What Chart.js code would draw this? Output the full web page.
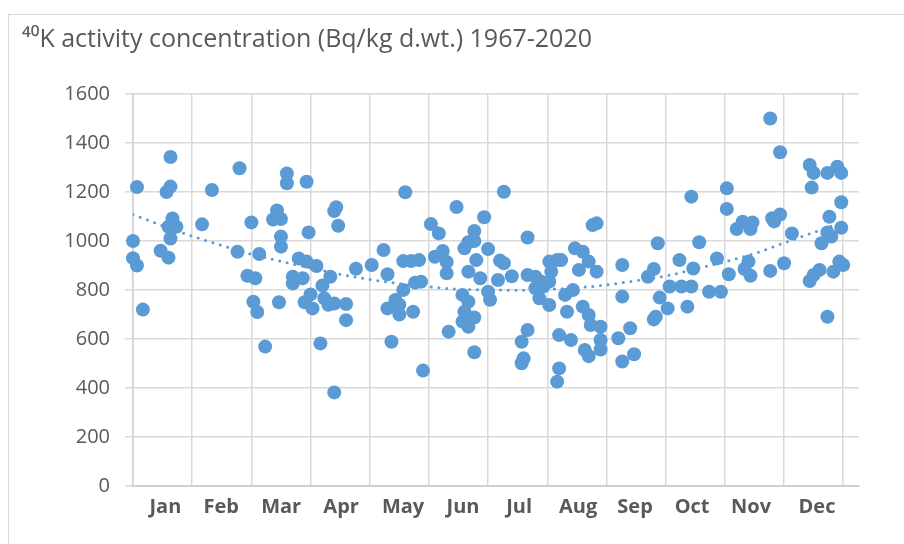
<!DOCTYPE html>
<html>
<head>
<meta charset="utf-8">
<script src="https://cdn.jsdelivr.net/npm/chart.js@4.4.1/dist/chart.umd.min.js"></script>
<style>
  html, body { margin: 0; padding: 0; background: #fff; overflow: hidden; }
  #frame { position: absolute; left: 8px; top: 14px; width: 1000px; height: 1000px; border: 1px solid #d9d9d9; }
  #wrap { position: absolute; left: 0; top: 0; width: 904px; height: 544px; }
</style>
</head>
<body>
<div id="frame"></div>
<div id="wrap"><canvas id="chart1" width="904" height="544"></canvas></div>
<script>
// sampling day of year (x) and 40K activity, Bq/kg d.wt. (y)
var days = [
  0, 2, 0, 2, 5, 14, 18, 19, 17, 19, 20, 18, 22, 19,
  35, 40, 54, 53, 60, 64, 58, 62, 61, 63, 67,
  78, 78, 88, 73, 71, 75, 75, 75, 89, 103, 102, 104, 84, 88, 93, 81, 86, 81, 74, 96, 100, 90, 87, 91, 97, 99, 102, 108, 108, 95, 102,
  113, 121, 127, 129, 138, 137, 141, 145, 137, 133, 129, 135, 135, 142, 143, 131, 147, 146,
  151, 155, 164, 178, 188, 200, 153, 157, 159, 159, 173, 168, 170, 173, 180, 174, 170, 176, 186, 188, 185, 192, 180, 181, 167, 170, 168, 173, 167, 170, 160, 173,
  200, 204, 207, 211, 215, 212, 211, 204, 206, 211, 208, 200, 197, 198, 197, 216, 216, 215,
  217, 224, 228, 226, 231, 235, 233, 235, 248, 248, 223, 219, 220, 228, 231, 232, 237, 222, 229, 231, 237, 237, 246, 252, 248, 254,
  266, 264, 261, 267, 271, 265, 264, 272, 278, 283, 277, 284, 283, 287, 281,
  296, 292, 298, 302, 301, 301, 306, 309, 314, 313, 312, 310, 313, 323, 328, 324, 328, 325, 323, 330, 334,
  343, 345, 344, 352, 357, 359, 359, 353, 359, 352, 354, 349, 343, 345, 348, 355, 358, 360, 352
];
var activity = [
  1000, 1220, 930, 900, 720, 960, 932, 1343, 1200, 1222, 1092, 1058, 1058, 1010,
  1068, 1208, 1297, 956, 1076, 947, 858, 848, 752, 710, 569,
  1276, 1236, 1242, 1125, 1088, 1090, 1018, 977, 1035, 1138, 1122, 1062, 929, 916, 898, 854, 848, 827, 750, 818, 854, 782, 750, 725, 766, 740, 745, 743, 677, 582, 382,
  887, 902, 963, 864, 1199, 918, 918, 922, 800, 759, 725, 740, 700, 711, 830, 589, 471, 834,
  1069, 1031, 1139, 1097, 1201, 1014, 936, 959, 914, 868, 1041, 970, 995, 1000, 967, 922, 875, 848, 920, 909, 841, 856, 793, 760, 780, 752, 711, 688, 671, 650, 630, 546,
  861, 854, 834, 916, 922, 875, 834, 807, 766, 739, 814, 637, 589, 521, 501, 616, 480, 426,
  922, 970, 956, 882, 916, 875, 1065, 1072, 902, 773, 800, 780, 711, 732, 698, 657, 650, 596, 555, 530, 596, 557, 603, 644, 508, 538,
  991, 886, 854, 769, 725, 691, 680, 814, 814, 814, 922, 888, 1181, 995, 732,
  929, 793, 793, 864, 1215, 1131, 1049, 1079, 1076, 1049, 916, 886, 858, 1500, 1362, 1093, 1108, 1080, 878, 909, 1031,
  1310, 1278, 1218, 1278, 1303, 1278, 1158, 1099, 1054, 1035, 1018, 991, 837, 861, 882, 875, 916, 902, 691
];

// dotted trend line
var trendDays = [0, 15, 30, 45, 60, 75, 90, 105, 120, 135, 150, 165, 180, 195, 210, 225, 240, 255, 270, 285, 300, 315, 330, 345, 360];
var trendValues = [1108, 1062, 1020, 982, 946, 917, 890, 864, 843, 826, 813, 803, 801, 799, 803, 809, 821, 838, 857, 886, 915, 949, 992, 1035, 1078];

var months = ['Jan', 'Feb', 'Mar', 'Apr', 'May', 'Jun', 'Jul', 'Aug', 'Sep', 'Oct', 'Nov', 'Dec'];
var monthDays = [16.4, 44.7, 75.1, 105.5, 136.9, 167.3, 195.7, 225.6, 254.5, 283.4, 313.3, 346.7];
var gridDays = [0, 30, 60, 90, 120, 150, 180, 210, 240, 270, 300, 330, 360];

var blue = '#5b9bd5';
var grey = '#d9d9d9';
var txt = '#595959';
var fam = "'Open Sans', 'Liberation Sans', sans-serif";

var points = days.map((d, i) => ({ x: d, y: activity[i] }));
var trend = trendDays.map((d, i) => ({ x: d, y: trendValues[i] }));

var isMonth = v => monthDays.indexOf(v) >= 0;

new Chart(document.getElementById('chart1'), {
  type: 'scatter',
  data: {
    datasets: [
      {
        data: points,
        backgroundColor: blue,
        borderColor: blue,
        borderWidth: 0,
        pointRadius: 7,
        pointHoverRadius: 7,
        clip: false,
        order: 1
      },
      {
        type: 'line',
        data: trend,
        borderColor: blue,
        borderWidth: 3,
        borderDash: [0, 7.7],
        borderCapStyle: 'round',
        pointRadius: 0,
        fill: false,
        cubicInterpolationMode: 'monotone',
        order: 2
      }
    ]
  },
  options: {
    responsive: false,
    animation: false,
    layout: { padding: { left: 22, right: 45, top: 0, bottom: 0 } },
    plugins: {
      legend: { display: false },
      tooltip: { enabled: false },
      title: {
        display: true,
        align: 'start',
        text: '\u2074\u2070K activity concentration (Bq/kg d.wt.) 1967-2020',
        color: txt,
        font: { family: fam, size: 25, weight: 'normal', lineHeight: 1.2 },
        padding: { top: 25, bottom: 39 }
      }
    },
    scales: {
      x: {
        type: 'linear',
        min: 0,
        max: 368,
        afterBuildTicks: (scale) => {
          scale.ticks = gridDays.concat(monthDays).sort((a, b) => a - b).map(v => ({ value: v }));
        },
        afterFit: (scale) => { scale.height = 58; },
        ticks: {
          autoSkip: false,
          maxRotation: 0,
          padding: 9,
          color: txt,
          font: { family: fam, size: 20, weight: 'bold' },
          callback: (v) => isMonth(v) ? months[monthDays.indexOf(v)] : ''
        },
        grid: {
          drawTicks: false,
          lineWidth: 1.5,
          color: (c) => (c.tick && isMonth(c.tick.value)) ? 'rgba(0,0,0,0)' : grey
        },
        border: { color: '#d0d0d0', width: 2 }
      },
      y: {
        min: 0,
        max: 1600,
        afterFit: (scale) => { scale.width = 111; },
        ticks: {
          stepSize: 200,
          padding: 15,
          color: txt,
          font: { family: fam, size: 20 },
          callback: (v) => String(v)
        },
        grid: { color: grey, lineWidth: 1.5, tickLength: 8 },
        border: { color: '#d0d0d0', width: 1.5 }
      }
    }
  }
});
</script>
</body>
</html>
